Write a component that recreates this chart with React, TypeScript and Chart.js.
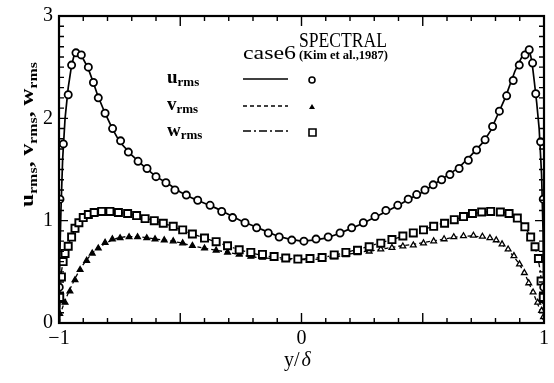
import { useEffect, useRef } from 'react';
import { Chart, registerables } from 'chart.js';
Chart.register(...registerables);

// ---- Data ----
// SPECTRAL (Kim et al., 1987) markers
const uKimY = [-0.999, -0.996, -0.982, -0.962, -0.948, -0.93, -0.908, -0.879, -0.858, -0.838, -0.81, -0.779, -0.746, -0.714, -0.674, -0.637, -0.6, -0.559, -0.522, -0.475, -0.428, -0.377, -0.329, -0.284, -0.233, -0.185, -0.137, -0.092, -0.04, 0.01, 0.06, 0.11, 0.159, 0.207, 0.255, 0.303, 0.348, 0.397, 0.44, 0.475, 0.509, 0.543, 0.578, 0.612, 0.65, 0.688, 0.722, 0.757, 0.788, 0.816, 0.846, 0.873, 0.898, 0.922, 0.939, 0.953, 0.966, 0.986, 0.997, 0.999];
const uKimV = [0.35, 1.21, 1.75, 2.23, 2.52, 2.64, 2.62, 2.5, 2.35, 2.2, 2.05, 1.9, 1.78, 1.67, 1.58, 1.51, 1.43, 1.37, 1.3, 1.25, 1.2, 1.15, 1.09, 1.03, 0.98, 0.93, 0.88, 0.84, 0.81, 0.8, 0.82, 0.84, 0.88, 0.93, 0.98, 1.04, 1.1, 1.15, 1.21, 1.255, 1.3, 1.35, 1.4, 1.45, 1.51, 1.59, 1.69, 1.79, 1.92, 2.07, 2.22, 2.37, 2.52, 2.62, 2.67, 2.54, 2.24, 1.77, 1.21, 0.35];

const vKimY = [-0.997, -0.975, -0.955, -0.934, -0.913, -0.886, -0.863, -0.838, -0.81, -0.78, -0.748, -0.711, -0.676, -0.638, -0.604, -0.566, -0.529, -0.49, -0.45, -0.4, -0.352, -0.305, -0.257, -0.209, -0.161, -0.113, -0.065, -0.015, 0.035, 0.085, 0.135, 0.183, 0.231, 0.279, 0.327, 0.373, 0.418, 0.461, 0.503, 0.545, 0.588, 0.628, 0.668, 0.709, 0.746, 0.777, 0.803, 0.827, 0.852, 0.876, 0.899, 0.919, 0.937, 0.955, 0.974, 0.99, 0.998];
const vKimV = [0.09, 0.2, 0.31, 0.42, 0.52, 0.61, 0.68, 0.73, 0.785, 0.82, 0.83, 0.84, 0.84, 0.83, 0.82, 0.81, 0.8, 0.78, 0.755, 0.73, 0.71, 0.69, 0.67, 0.65, 0.64, 0.635, 0.63, 0.625, 0.625, 0.63, 0.645, 0.665, 0.685, 0.7, 0.72, 0.735, 0.75, 0.76, 0.78, 0.8, 0.82, 0.84, 0.85, 0.855, 0.845, 0.83, 0.81, 0.77, 0.72, 0.655, 0.575, 0.49, 0.39, 0.3, 0.2, 0.12, 0.06];

const wKimY = [-0.997, -0.99, -0.983, -0.975, -0.962, -0.948, -0.934, -0.918, -0.9, -0.879, -0.855, -0.824, -0.79, -0.755, -0.717, -0.68, -0.645, -0.607, -0.57, -0.529, -0.49, -0.45, -0.4, -0.352, -0.305, -0.257, -0.209, -0.161, -0.113, -0.065, -0.015, 0.035, 0.085, 0.135, 0.183, 0.231, 0.279, 0.327, 0.373, 0.418, 0.461, 0.503, 0.545, 0.59, 0.63, 0.668, 0.705, 0.743, 0.78, 0.82, 0.856, 0.89, 0.921, 0.945, 0.963, 0.977, 0.988, 0.997];
const wKimV = [0.25, 0.45, 0.6, 0.68, 0.75, 0.84, 0.925, 0.98, 1.03, 1.06, 1.08, 1.09, 1.09, 1.08, 1.07, 1.05, 1.02, 1.0, 0.975, 0.945, 0.91, 0.87, 0.83, 0.795, 0.755, 0.715, 0.69, 0.67, 0.65, 0.635, 0.625, 0.63, 0.64, 0.665, 0.69, 0.71, 0.745, 0.78, 0.815, 0.85, 0.88, 0.91, 0.945, 0.975, 1.01, 1.04, 1.07, 1.085, 1.09, 1.085, 1.07, 1.025, 0.94, 0.84, 0.745, 0.63, 0.41, 0.25];

// case6 lines
const uLineY = [-1, -0.997, -0.992, -0.985, -0.975, -0.962, -0.948, -0.935, -0.925, -0.915, -0.9, -0.88, -0.86, -0.84, -0.81, -0.78, -0.75, -0.7, -0.65, -0.6, -0.55, -0.5, -0.45, -0.4, -0.35, -0.3, -0.25, -0.2, -0.15, -0.1, -0.05, 0, 0.05, 0.1, 0.15, 0.2, 0.25, 0.3, 0.35, 0.4, 0.45, 0.5, 0.55, 0.6, 0.65, 0.7, 0.75, 0.78, 0.81, 0.84, 0.86, 0.88, 0.9, 0.915, 0.93, 0.94, 0.95, 0.96, 0.97, 0.98, 0.99, 0.996, 1];
const uLineV = [0, 0.6, 1.1, 1.6, 2.0, 2.3, 2.52, 2.64, 2.66, 2.64, 2.58, 2.49, 2.36, 2.22, 2.05, 1.9, 1.77, 1.64, 1.53, 1.43, 1.36, 1.28, 1.22, 1.17, 1.12, 1.06, 1.0, 0.95, 0.9, 0.85, 0.82, 0.8, 0.81, 0.83, 0.87, 0.92, 0.97, 1.03, 1.09, 1.15, 1.22, 1.28, 1.36, 1.44, 1.52, 1.64, 1.77, 1.88, 2.04, 2.2, 2.33, 2.46, 2.56, 2.63, 2.68, 2.66, 2.56, 2.36, 2.15, 1.9, 1.45, 0.9, 0];

const vLineY = [-1, -0.99, -0.975, -0.955, -0.935, -0.91, -0.885, -0.86, -0.835, -0.8, -0.76, -0.72, -0.68, -0.64, -0.6, -0.55, -0.5, -0.45, -0.4, -0.35, -0.3, -0.25, -0.2, -0.15, -0.1, -0.05, 0, 0.05, 0.1, 0.15, 0.2, 0.25, 0.3, 0.35, 0.4, 0.45, 0.5, 0.55, 0.6, 0.65, 0.7, 0.75, 0.79, 0.82, 0.85, 0.875, 0.9, 0.925, 0.945, 0.965, 0.985, 1];
const vLineV = [0, 0.12, 0.22, 0.33, 0.43, 0.54, 0.62, 0.69, 0.74, 0.79, 0.83, 0.845, 0.845, 0.835, 0.82, 0.805, 0.785, 0.755, 0.73, 0.71, 0.69, 0.665, 0.645, 0.635, 0.625, 0.62, 0.62, 0.62, 0.63, 0.65, 0.675, 0.695, 0.71, 0.73, 0.75, 0.765, 0.785, 0.805, 0.825, 0.845, 0.85, 0.84, 0.815, 0.78, 0.72, 0.65, 0.57, 0.46, 0.35, 0.24, 0.12, 0];

const wLineY = [-1, -0.995, -0.99, -0.98, -0.965, -0.95, -0.935, -0.92, -0.9, -0.88, -0.85, -0.8, -0.75, -0.7, -0.65, -0.6, -0.55, -0.5, -0.45, -0.4, -0.35, -0.3, -0.25, -0.2, -0.15, -0.1, -0.05, 0, 0.05, 0.1, 0.15, 0.2, 0.25, 0.3, 0.35, 0.4, 0.45, 0.5, 0.55, 0.6, 0.65, 0.7, 0.75, 0.8, 0.85, 0.88, 0.9, 0.92, 0.94, 0.96, 0.975, 0.985, 0.993, 1];
const wLineV = [0, 0.3, 0.5, 0.65, 0.75, 0.83, 0.92, 0.98, 1.03, 1.06, 1.08, 1.09, 1.08, 1.06, 1.03, 0.995, 0.96, 0.915, 0.87, 0.83, 0.79, 0.75, 0.71, 0.68, 0.655, 0.64, 0.63, 0.625, 0.635, 0.645, 0.67, 0.7, 0.73, 0.765, 0.8, 0.835, 0.87, 0.91, 0.95, 0.99, 1.025, 1.065, 1.085, 1.09, 1.075, 1.05, 1.0, 0.95, 0.86, 0.76, 0.64, 0.5, 0.3, 0];

const xTickValues = [-1, 0, 1];
const xTickLabels = ['\u22121', '0', '1'];
const yTickLabels = ['0', '1', '2', '3'];

const SERIF = '"Liberation Serif", "Times New Roman", serif';

function pts(xs: number[], ys: number[]) {
  return xs.map((x, i) => ({ x, y: ys[i] }));
}

function fitText(ctx: CanvasRenderingContext2D, text: string, x: number, y: number, w: number, font: string) {
  ctx.save();
  ctx.font = font;
  const m = ctx.measureText(text).width;
  ctx.translate(x, y);
  ctx.scale(w / m, 1);
  ctx.fillText(text, 0, 0);
  ctx.restore();
}

type Seg = { t: string; sub?: boolean };
function richWidth(ctx: CanvasRenderingContext2D, segs: Seg[], big: string, small: string) {
  let w = 0;
  for (const s of segs) {
    ctx.font = s.sub ? small : big;
    w += ctx.measureText(s.t).width;
  }
  return w;
}
function drawRich(ctx: CanvasRenderingContext2D, segs: Seg[], x: number, y: number, big: string, small: string, subDy: number) {
  let cx = x;
  for (const s of segs) {
    ctx.font = s.sub ? small : big;
    ctx.fillText(s.t, cx, s.sub ? y + subDy : y);
    cx += ctx.measureText(s.t).width;
  }
}

const decorPlugin = {
  id: 'decor',
  afterDraw(chart: any) {
    const ctx: CanvasRenderingContext2D = chart.ctx;
    const { left, right, top, bottom } = chart.chartArea;
    const xs = chart.scales.x;
    const ys = chart.scales.y;
    ctx.save();
    ctx.strokeStyle = '#000';
    ctx.fillStyle = '#000';
    // frame
    ctx.lineWidth = 2.2;
    ctx.strokeRect(left, top, right - left, bottom - top);
    // ticks
    ctx.lineWidth = 1.4;
    ctx.beginPath();
    for (let i = -10; i <= 10; i++) {
      const v = i / 10;
      const px = xs.getPixelForValue(v);
      const major = i % 5 === 0;
      const len = major ? 10 : 5;
      if (i !== -10 && i !== 10) {
        ctx.moveTo(px, bottom);
        ctx.lineTo(px, bottom - len);
        ctx.moveTo(px, top);
        ctx.lineTo(px, top + len);
      }
    }
    for (let i = 1; i < 30; i++) {
      const v = i / 10;
      const py = ys.getPixelForValue(v);
      const major = i % 10 === 0;
      const len = major ? 9 : 5;
      ctx.moveTo(left, py);
      ctx.lineTo(left + len, py);
      ctx.moveTo(right, py);
      ctx.lineTo(right - len, py);
    }
    ctx.stroke();

    // legend
    ctx.textBaseline = 'alphabetic';
    ctx.textAlign = 'left';
    fitText(ctx, 'case6', 243, 59, 53, `19px ${SERIF}`);
    fitText(ctx, 'SPECTRAL', 299, 47, 88, `21px ${SERIF}`);
    fitText(ctx, '(Kim et al.,1987)', 299, 59, 89, `bold 13px ${SERIF}`);
    const big = `bold 19px ${SERIF}`;
    const small = `bold 13px ${SERIF}`;
    const rows = [
      { l: 'u', y: 83, ly: 79, dash: [] as number[], m: 'c' },
      { l: 'v', y: 110, ly: 106, dash: [4, 3], m: 't' },
      { l: 'w', y: 136, ly: 131, dash: [8, 3, 2, 3], m: 's' },
    ];
    for (const r of rows) {
      drawRich(ctx, [{ t: r.l }, { t: 'rms', sub: true }], 167, r.y, big, small, 3);
      ctx.setLineDash(r.dash);
      ctx.lineWidth = 1.4;
      ctx.beginPath();
      ctx.moveTo(243, r.ly);
      ctx.lineTo(288, r.ly);
      ctx.stroke();
      ctx.setLineDash([]);
      ctx.lineWidth = 1.6;
      ctx.beginPath();
      if (r.m === 'c') {
        ctx.arc(312, r.ly + 1, 3, 0, Math.PI * 2);
        ctx.stroke();
      } else if (r.m === 't') {
        ctx.moveTo(312, r.ly - 2);
        ctx.lineTo(315, r.ly + 3);
        ctx.lineTo(309, r.ly + 3);
        ctx.closePath();
        ctx.fill();
      } else {
        ctx.rect(309, r.ly - 2, 7, 7);
        ctx.stroke();
      }
    }

    // y-axis title (rotated, with subscripts)
    const tsegs: Seg[] = [
      { t: 'u' }, { t: 'rms', sub: true }, { t: ', ' },
      { t: 'v' }, { t: 'rms', sub: true }, { t: ', ' },
      { t: 'w' }, { t: 'rms', sub: true },
    ];
    ctx.save();
    ctx.translate(33, 207);
    ctx.rotate(-Math.PI / 2);
    const tw = richWidth(ctx, tsegs, big, small);
    ctx.scale(145 / tw, 1);
    drawRich(ctx, tsegs, 0, 0, big, small, 4);
    ctx.restore();

    // x-axis title
    ctx.font = `20px ${SERIF}`;
    ctx.fillText('y/', 284, 366);
    const w1 = ctx.measureText('y/').width;
    ctx.font = `italic 20px ${SERIF}`;
    ctx.fillText('\u03b4', 284 + w1 + 2, 366);
    ctx.restore();
  },
};

export default function App() {
  const ref = useRef<HTMLCanvasElement | null>(null);
  useEffect(() => {
    if (!ref.current) return;
    const black = '#000';
    const chart = new Chart(ref.current, {
      type: 'scatter',
      data: {
        datasets: [
          {
            label: 'u_rms SPECTRAL',
            data: pts(uKimY, uKimV),
            pointStyle: 'circle',
            pointRadius: 3.6,
            pointBorderWidth: 1.8,
            pointBorderColor: black,
            pointBackgroundColor: '#fff',
            showLine: false,
          },
          {
            label: 'w_rms SPECTRAL',
            data: pts(wKimY, wKimV),
            pointStyle: 'rect',
            pointRadius: 5,
            pointBorderWidth: 1.9,
            pointBorderColor: black,
            pointBackgroundColor: '#fff',
            showLine: false,
          },
          {
            label: 'v_rms SPECTRAL',
            data: pts(vKimY, vKimV),
            pointStyle: 'triangle',
            pointRadius: 3.3,
            pointBorderWidth: 1.3,
            pointBorderColor: black,
            pointBackgroundColor: (c: any) => (c.raw && c.raw.x < 0 ? black : '#fff'),
            showLine: false,
          },
          {
            label: 'u_rms case6',
            data: pts(uLineY, uLineV),
            showLine: true,
            pointRadius: 0,
            borderColor: black,
            borderWidth: 1.7,
          },
          {
            label: 'v_rms case6',
            data: pts(vLineY, vLineV),
            showLine: true,
            pointRadius: 0,
            borderColor: black,
            borderWidth: 1.3,
            borderDash: [4, 3],
          },
          {
            label: 'w_rms case6',
            data: pts(wLineY, wLineV),
            showLine: true,
            pointRadius: 0,
            borderColor: black,
            borderWidth: 1.3,
            borderDash: [8, 3, 2, 3],
          },
        ],
      },
      options: {
        responsive: false,
        animation: false,
        layout: { padding: { top: 10, right: 10, left: 0, bottom: 0 } },
        plugins: { legend: { display: false }, tooltip: { enabled: false } },
        scales: {
          x: {
            type: 'linear',
            min: -1,
            max: 1,
            afterFit: (s: any) => { s.height = 60; },
            afterBuildTicks: (s: any) => { s.ticks = xTickValues.map((v) => ({ value: v })); },
            grid: { display: false, drawTicks: false },
            border: { display: false },
            ticks: {
              padding: 4,
              color: black,
              font: { family: SERIF, size: 20 },
              callback: (v: any) => xTickLabels[xTickValues.indexOf(Number(v))] ?? '',
            },
          },
          y: {
            type: 'linear',
            min: 0,
            max: 3,
            afterFit: (s: any) => { s.width = 59; },
            grid: { display: false, drawTicks: false },
            border: { display: false },
            ticks: {
              stepSize: 1,
              padding: 6,
              color: black,
              font: { family: SERIF, size: 20, lineHeight: 1 },
              callback: (v: any) => yTickLabels[Number(v)] ?? '',
            },
          },
        },
      },
      plugins: [decorPlugin],
    } as any);
    return () => chart.destroy();
  }, []);
  return (
    <div style={{ position: 'absolute', left: 0, top: 0, width: 554, height: 383, background: '#fff' }}>
      <canvas ref={ref} width={554} height={383} style={{ display: 'block' }} />
    </div>
  );
}
